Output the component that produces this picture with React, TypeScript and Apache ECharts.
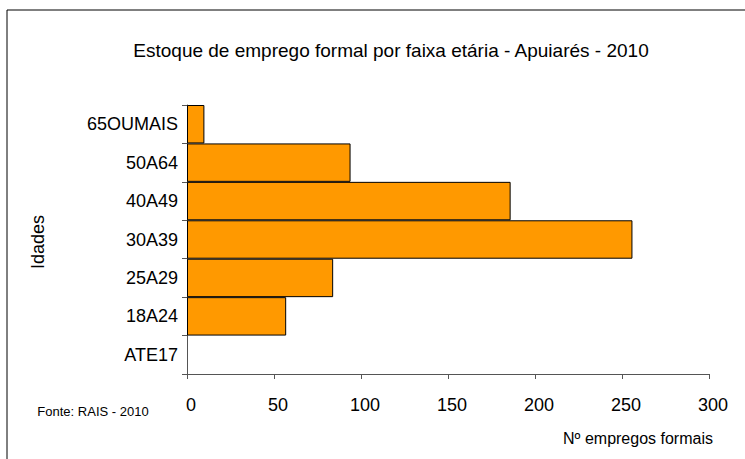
import React, { useEffect, useRef } from "react";
import * as echarts from "echarts";

const categories = ["ATE17", "18A24", "25A29", "30A39", "40A49", "50A64", "65OUMAIS"];
const values = [0, 57, 84, 256, 186, 94, 10];
const xTicks = [0, 50, 100, 150, 200, 250, 300];

const titleText = "Estoque de emprego formal por faixa etária - Apuiarés - 2010";
const yName = "Idades";
const xName = "Nº empregos formais";
const sourceText = "Fonte: RAIS - 2010";

const FONT = "'Liberation Sans', Arial, sans-serif";

export default function App() {
  const ref = useRef<HTMLDivElement>(null);
  useEffect(() => {
    if (!ref.current) return;
    const chart = echarts.init(ref.current, undefined, { renderer: "svg" });
    chart.setOption({
      animation: false,
      backgroundColor: "#ffffff",
      title: {
        text: titleText,
        left: 386,
        top: 36,
        textAlign: "center",
        textStyle: { fontFamily: FONT, fontSize: 19, fontWeight: "normal", color: "#000" },
      },
      grid: { left: 187, right: 36, top: 105, bottom: 85, containLabel: false },
      xAxis: {
        type: "value",
        min: xTicks[0],
        max: xTicks[xTicks.length - 1],
        interval: 50,
        splitLine: { show: false },
        axisLine: { show: true, lineStyle: { color: "#555", width: 1 } },
        axisTick: { show: true, length: 5, lineStyle: { color: "#555" } },
        axisLabel: {
          margin: 22,
          padding: [0, 0, 0, 8],
          fontFamily: FONT,
          fontSize: 18,
          color: "#000",
        },
      },
      yAxis: {
        type: "category",
        data: categories,
        axisLine: { show: true, lineStyle: { color: "#555", width: 1 } },
        axisTick: { show: true, length: 5, lineStyle: { color: "#555" } },
        axisLabel: { margin: 9, fontFamily: FONT, fontSize: 18, color: "#000" },
      },
      series: [
        {
          type: "bar",
          data: values.map((v) => (v === 0 ? { value: v, itemStyle: { borderWidth: 0 } } : v)),
          barCategoryGap: "0%",
          itemStyle: { color: "#FF9900", borderColor: "#000", borderWidth: 1 },
        },
      ],
      graphic: [
        {
          type: "rect",
          shape: { x: 7, y: 10, width: 800, height: 500 },
          style: { fill: "none", stroke: "#000", lineWidth: 1 },
          silent: true,
        },
        {
          type: "text",
          x: 38,
          y: 242,
          rotation: Math.PI / 2,
          style: {
            text: yName,
            fontFamily: FONT,
            fontSize: 18,
            fill: "#000",
            textAlign: "center",
            textVerticalAlign: "middle",
          },
        },
        {
          type: "text",
          x: 638,
          y: 438,
          style: {
            text: xName,
            fontFamily: FONT,
            fontSize: 16,
            fill: "#000",
            textAlign: "center",
            textVerticalAlign: "middle",
          },
        },
        {
          type: "text",
          x: 93,
          y: 411,
          style: {
            text: sourceText,
            fontFamily: FONT,
            fontSize: 13,
            fill: "#000",
            textAlign: "center",
            textVerticalAlign: "middle",
          },
        },
      ],
    });
    return () => chart.dispose();
  }, []);
  return (
    <div
      ref={ref}
      style={{ position: "fixed", left: 0, top: 0, width: 745, height: 459 }}
    />
  );
}
